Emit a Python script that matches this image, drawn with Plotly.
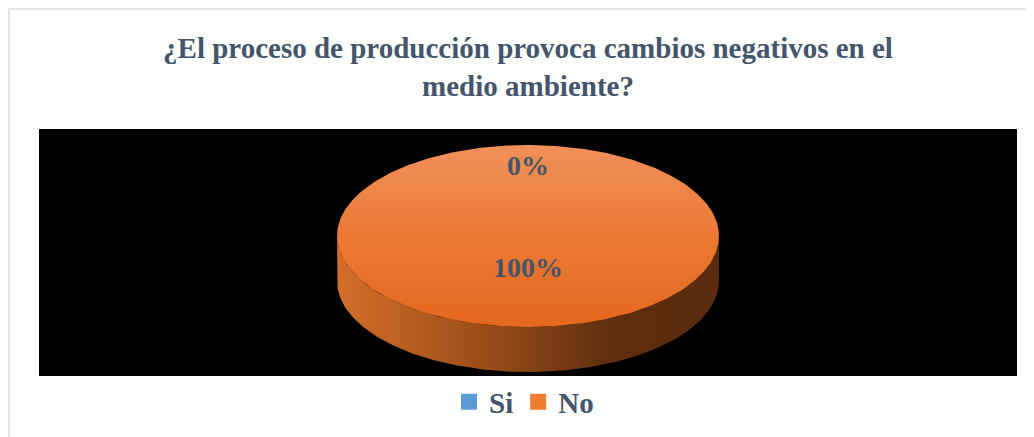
import numpy as np
import plotly.graph_objects as go

# ---- data ----
categories = ["Si", "No"]
values = [0, 100]
title_text = "¿El proceso de producción provoca cambios negativos en el<br>medio ambiente?"

# ---- style / geometry (page pixel space) ----
PAGE_W, PAGE_H = 1034, 437
OFF = 8                   # default body margin of the html page
W, H = PAGE_W - OFF, PAGE_H - OFF
CX, CY = 528, 236        # centre of the top face
RX, RY = 191, 91         # ellipse radii of the top face
DEPTH = 45               # thickness of the 3D pie
label_frac = [0.78, 0.35]
legend_colors = ["#5B9BD5", "#ED7D31"]
top_grad = [[0, "#F0905A"], [0.5, "#EC7A34"], [1, "#E4681E"]]
side_grad = [[0, "#D46E29"], [0.35, "#A0501A"], [0.72, "#5E2E0F"], [1, "#5A2B0C"]]
TXT = "#44546A"
FONT = "Liberation Serif"

total = sum(values)
fig = go.Figure()


def pt(theta_deg, dy=0.0):
    t = np.radians(theta_deg)
    return CX + RX * np.sin(t), CY - RY * np.cos(t) + dy


# side faces (front half only: 90..270 degrees clockwise from 12 o'clock)
cum = 0.0
for cat, v in zip(categories, values):
    a0 = cum / total * 360
    a1 = (cum + v) / total * 360
    cum += v
    s0, s1 = max(a0, 90), min(a1, 270)
    if v <= 0 or s1 <= s0:
        continue
    th = np.linspace(s0, s1, 200)
    xt, yt = pt(th)
    xb, yb = pt(th[::-1], DEPTH)
    fig.add_trace(go.Scatter(
        x=np.concatenate([xt, xb]), y=np.concatenate([yt, yb]),
        mode="lines", line=dict(width=0), fill="toself",
        fillgradient=dict(type="horizontal", colorscale=side_grad,
                          start=CX - RX, stop=CX + RX),
        hoverinfo="skip", showlegend=False))

# top faces
cum = 0.0
for cat, v in zip(categories, values):
    a0 = cum / total * 360
    a1 = (cum + v) / total * 360
    cum += v
    if v <= 0:
        continue
    th = np.linspace(a0, a1, 400)
    xa, ya = pt(th)
    fig.add_trace(go.Scatter(
        x=np.concatenate([[CX], xa, [CX]]), y=np.concatenate([[CY], ya, [CY]]),
        mode="lines", line=dict(width=0), fill="toself",
        fillgradient=dict(type="vertical", colorscale=top_grad,
                          start=CY - RY, stop=CY + RY),
        hoverinfo="skip", showlegend=False, name=cat))

# percentage labels
cum = 0.0
for cat, v, f in zip(categories, values, label_frac):
    mid = (cum + v / 2) / total * 360
    cum += v
    t = np.radians(mid)
    lx = CX + f * RX * np.sin(t)
    ly = CY - f * RY * np.cos(t)
    fig.add_annotation(x=lx, y=ly, xref="x", yref="y", text=f"{v / total:.0%}",
                       showarrow=False, xanchor="center", yanchor="middle",
                       font=dict(family=FONT, size=28, color=TXT, weight="bold"))

# legend entries
for cat, col in zip(categories, legend_colors):
    fig.add_trace(go.Scatter(x=[None], y=[None], mode="markers", name=cat,
                             marker=dict(symbol="square", size=16, color=col)))

fig.update_layout(
    width=W, height=H,
    margin=dict(l=0, r=0, t=0, b=0),
    paper_bgcolor="white", plot_bgcolor="rgba(0,0,0,0)",
    xaxis=dict(range=[OFF, PAGE_W], visible=False, fixedrange=True),
    yaxis=dict(range=[PAGE_H, OFF], visible=False, fixedrange=True),
    title=dict(text=title_text, x=(528 - OFF) / W, xanchor="center",
               y=1 - (58 - OFF) / H, yanchor="middle", yref="container",
               font=dict(family=FONT, size=29, color=TXT, weight="bold")),
    legend=dict(orientation="h", x=(524 - OFF) / W, xanchor="center",
                y=1 - (402 - OFF) / H, yanchor="middle",
                font=dict(family=FONT, size=29, color=TXT, weight="bold"),
                itemwidth=30, tracegroupgap=0, bgcolor="rgba(0,0,0,0)"),
    shapes=[
        dict(type="rect", xref="x", yref="y", x0=39, x1=1017, y0=129, y1=376,
             fillcolor="black", line=dict(width=0), layer="below"),
        dict(type="line", xref="x", yref="y", x0=OFF, x1=PAGE_W, y0=9, y1=9,
             line=dict(color="#E1E5EA", width=2), layer="below"),
        dict(type="line", xref="x", yref="y", x0=OFF + 1, x1=OFF + 1, y0=8, y1=PAGE_H,
             line=dict(color="#E1E5EA", width=2), layer="below"),
    ],
)

fig.write_html("out.html")
